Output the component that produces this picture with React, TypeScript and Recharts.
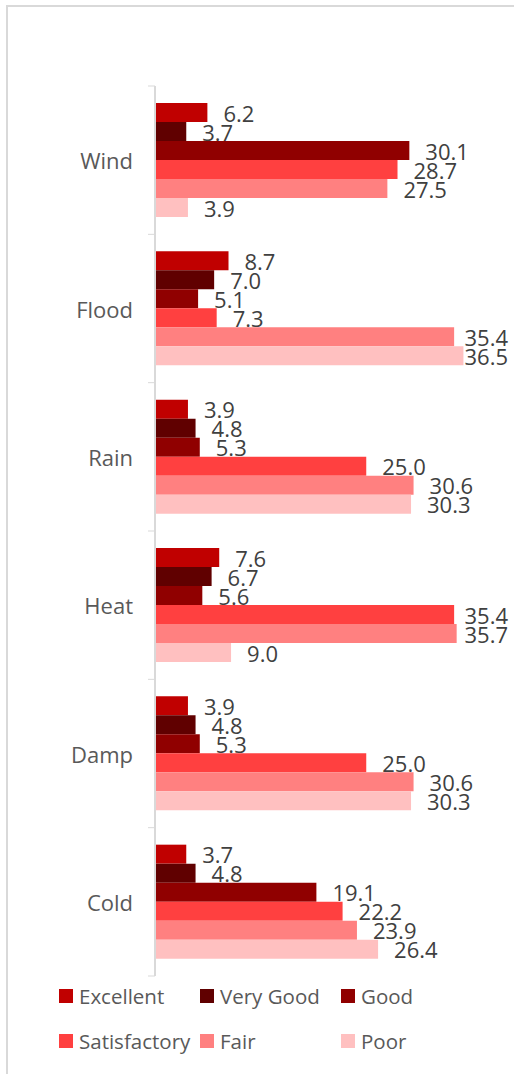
import { Bar, BarChart, LabelList, XAxis, YAxis } from "recharts"

const hazards = ["Wind", "Flood", "Rain", "Heat", "Damp", "Cold"]
const excellent = [6.2, 8.7, 3.9, 7.6, 3.9, 3.7]
const veryGood = [3.7, 7.0, 4.8, 6.7, 4.8, 4.8]
const good = [30.1, 5.1, 5.3, 5.6, 5.3, 19.1]
const satisfactory = [28.7, 7.3, 25.0, 35.4, 25.0, 22.2]
const fair = [27.5, 35.4, 30.6, 35.7, 30.6, 23.9]
const poor = [3.9, 36.5, 30.3, 9.0, 30.3, 26.4]

const SERIES = [
  { key: "Excellent", values: excellent, color: "#C00000" },
  { key: "Very Good", values: veryGood, color: "#600000" },
  { key: "Good", values: good, color: "#900000" },
  { key: "Satisfactory", values: satisfactory, color: "#FF4040" },
  { key: "Fair", values: fair, color: "#FF8080" },
  { key: "Poor", values: poor, color: "#FFC0C0" },
]

const data = hazards.map((name, i) => {
  const row: Record<string, any> = { name }
  SERIES.forEach((s) => (row[s.key] = s.values[i]))
  return row
})

const W = 514
const H = 1074
const TOP = 86
const BOTTOM = 98
const STEP = (H - TOP - BOTTOM) / hazards.length
const FONT = "'Open Sans', sans-serif"
const LABEL_LIMIT = 508

function HazardTick(props: any) {
  const { x, y, payload, index } = props
  const axisX = x + 22
  return (
    <g>
      <line x1={axisX - 7} x2={axisX} y1={y - STEP / 2} y2={y - STEP / 2} stroke="#D9D9D9" />
      {index === hazards.length - 1 && (
        <line x1={axisX - 7} x2={axisX} y1={y + STEP / 2} y2={y + STEP / 2} stroke="#D9D9D9" />
      )}
      <text x={x} y={y} textAnchor="end" dominantBaseline="central" fill="#595959" fontSize={22} fontFamily={FONT}>
        {payload.value}
      </text>
    </g>
  )
}

// value label right of the bar, pushed back inside when it would run off the edge
function ValueLabel(props: any) {
  const { x, y, width, height, value } = props
  const text = Number(value).toFixed(1)
  const approx = text.length * 11.5
  let lx = x + width + 16
  let anchor = "start"
  if (lx + approx > LABEL_LIMIT) {
    lx = LABEL_LIMIT
    anchor = "end"
  }
  return (
    <text
      x={lx}
      y={y + height / 2}
      textAnchor={anchor}
      dominantBaseline="central"
      fill="#404040"
      fontSize={22}
      fontFamily={FONT}
    >
      {text}
    </text>
  )
}

function LegendBox() {
  return (
    <div
      style={{
        position: "absolute",
        left: 0,
        top: 983,
        width: W,
        height: 90,
        fontFamily: FONT,
        fontSize: 20.5,
        color: "#595959",
      }}
    >
      {SERIES.map((s, i) => (
        <div
          key={s.key}
          style={{
            position: "absolute",
            left: 59 + (i % 3) * 141,
            top: Math.floor(i / 3) * 45,
            display: "flex",
            alignItems: "center",
            height: 26,
            whiteSpace: "nowrap",
          }}
        >
          <span style={{ width: 14, height: 14, background: s.color, marginRight: 6, display: "inline-block" }} />
          {s.key}
        </div>
      ))}
    </div>
  )
}

export default function App() {
  return (
    <div style={{ position: "fixed", left: 0, top: 0, width: W, height: H, overflow: "hidden", background: "#fff" }}>
      <BarChart
        width={W}
        height={H}
        data={data}
        layout="vertical"
        margin={{ top: TOP, right: 21, bottom: BOTTOM, left: 0 }}
        barGap={0}
        barSize={19}
        style={{ position: "absolute", left: 0, top: 0 }}
      >
        <XAxis type="number" domain={[0, 40]} hide />
        <YAxis
          type="category"
          dataKey="name"
          width={155}
          axisLine={{ stroke: "#D9D9D9", strokeWidth: 2 }}
          tickLine={false}
          tickSize={7}
          tickMargin={15}
          tick={<HazardTick />}
          interval={0}
        />
        {SERIES.map((s) => (
          <Bar key={s.key} dataKey={s.key} fill={s.color} isAnimationActive={false}>
            <LabelList dataKey={s.key} content={<ValueLabel />} />
          </Bar>
        ))}
      </BarChart>
      <LegendBox />
      <div
        style={{
          position: "absolute",
          left: 6,
          top: 5,
          width: 700,
          height: 1200,
          borderLeft: "2px solid #D9D9D9",
          borderTop: "2px solid #D9D9D9",
          pointerEvents: "none",
        }}
      />
    </div>
  )
}
